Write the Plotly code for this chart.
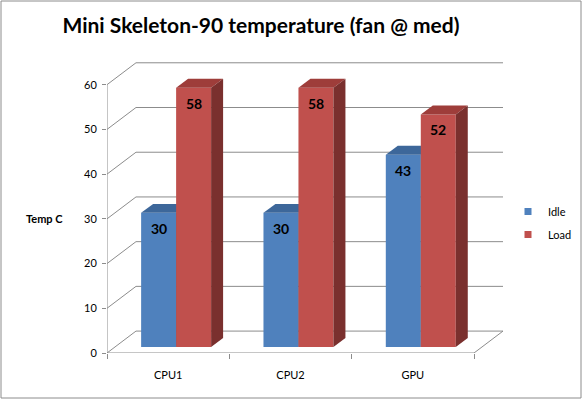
import plotly.graph_objects as go

# Dados do gráfico
categorias = ["CPU1", "CPU2", "GPU"]
idle = [30, 30, 43]
load = [58, 58, 52]
y_ticks = [0, 10, 20, 30, 40, 50, 60]

# Geometria "3D" (em unidades dos eixos)
WALL_DX, WALL_DY = 0.237, 4.9     # profundidade da parede de fundo
PLANE_DX, PLANE_DY = 0.065, 1.34  # plano onde ficam as barras
BAR_DX, BAR_DY = 0.098, 2.0       # profundidade de cada barra
BAR_W = 0.286

GRID = "#8c8c8c"
FONT = "Lato"

# margens em pixels -> área do gráfico
W, H = 583, 401
ML, MR, MT, MB = 107, 80, 61, 48
PW, PH = W - ML - MR, H - MT - MB

fig = go.Figure()

# grade da parede de fundo (linha diagonal + horizontal)
for v in y_ticks:
  fig.add_trace(go.Scatter(
    x=[-0.5, -0.5 + WALL_DX, 2.5 + WALL_DX],
    y=[v, v + WALL_DY, v + WALL_DY],
    mode="lines", line=dict(color=GRID, width=1),
    showlegend=False, hoverinfo="skip"))

# chão: borda frontal e lateral direita
fig.add_trace(go.Scatter(
  x=[-0.5, 2.5, 2.5 + WALL_DX], y=[0, 0, WALL_DY],
  mode="lines", line=dict(color=GRID, width=1),
  showlegend=False, hoverinfo="skip"))
# eixo y frontal
fig.add_trace(go.Scatter(
  x=[-0.5, -0.5], y=[0, y_ticks[-1]],
  mode="lines", line=dict(color=GRID, width=1),
  showlegend=False, hoverinfo="skip"))

series = [
  ("Idle", idle, -BAR_W / 2, "#4F81BD", "#3D679A", "#2F5480"),
  ("Load", load, BAR_W / 2, "#C0504D", "#9E3D3A", "#7A302E"),
]

annotations = []
for nome, valores, off, c_front, c_top, c_side in series:
  for i, v in enumerate(valores):
    cx = i + PLANE_DX + off
    xl, xr = cx - BAR_W / 2, cx + BAR_W / 2
    base, top = PLANE_DY, PLANE_DY + v
    # face frontal
    fig.add_trace(go.Scatter(
      x=[xl, xr, xr, xl, xl], y=[base, base, top, top, base],
      mode="lines", fill="toself", fillcolor=c_front,
      line=dict(width=0, color=c_front), showlegend=False, hoverinfo="skip"))
    # topo
    fig.add_trace(go.Scatter(
      x=[xl, xr, xr + BAR_DX, xl + BAR_DX, xl],
      y=[top, top, top + BAR_DY, top + BAR_DY, top],
      mode="lines", fill="toself", fillcolor=c_top,
      line=dict(width=0, color=c_top), showlegend=False, hoverinfo="skip"))
    # lateral
    fig.add_trace(go.Scatter(
      x=[xr, xr + BAR_DX, xr + BAR_DX, xr, xr],
      y=[base, base + BAR_DY, top + BAR_DY, top, base],
      mode="lines", fill="toself", fillcolor=c_side,
      line=dict(width=0, color=c_side), showlegend=False, hoverinfo="skip"))
    annotations.append(dict(
      x=cx, y=top, text=f"<b>{v}</b>", showarrow=False,
      yanchor="top", yshift=-5, font=dict(family=FONT, size=14, color="black")))

# legenda
for nome, valores, off, c_front, c_top, c_side in series:
  fig.add_trace(go.Scatter(
    x=[None], y=[None], mode="markers", name=nome, legendgroup=nome,
    marker=dict(symbol="square", size=7, color=c_front)))

# título do eixo y (horizontal, como no Excel)
annotations.append(dict(
  x=(44 - ML) / PW, y=(H - MB - 219) / PH, xref="paper", yref="paper",
  xanchor="center", yanchor="middle", text="<b>Temp C</b>",
  showarrow=False, font=dict(family=FONT, size=11, color="black")))

fig.update_layout(
  width=W, height=H, autosize=False,
  margin=dict(l=ML, r=MR, t=MT, b=MB, pad=0, autoexpand=False),
  paper_bgcolor="white", plot_bgcolor="white",
  title=dict(text="<b>Mini Skeleton-90 temperature (fan @ med)</b>",
             x=261 / W, xanchor="center", y=1 - 26 / H, yanchor="middle",
             font=dict(family=FONT, size=21, color="black")),
  font=dict(family=FONT, size=11, color="black"),
  showlegend=True,
  legend=dict(xref="container", yref="container", x=508 / W, y=1 - 197 / H,
              xanchor="left", yanchor="top",
              tracegroupgap=4, font=dict(size=11), bgcolor="rgba(0,0,0,0)"),
  annotations=annotations,
  shapes=[dict(type="rect", xref="paper", yref="paper",
               x0=(1 - ML) / PW, x1=(581 - ML) / PW,
               y0=(H - MB - 398) / PH, y1=(H - MB - 1) / PH,
               line=dict(color="#8c8c8c", width=1))],
)

fig.update_xaxes(
  range=[-0.5, 2.5 + WALL_DX], showgrid=False, zeroline=False, showline=False,
  tickmode="array", tickvals=[0, 1, 2], ticktext=categorias, ticks="",
  ticklabelstandoff=14, fixedrange=True,
  minor=dict(tickmode="array", tickvals=[-0.5, 0.5, 1.5, 2.5], ticks="outside",
             ticklen=5, tickcolor=GRID, showgrid=False))
fig.update_yaxes(
  range=[0, 65.3], showgrid=False, zeroline=False, showline=False,
  tickmode="array", tickvals=y_ticks, ticks="outside", ticklen=4, tickcolor=GRID,
  ticklabelstandoff=3, fixedrange=True)

# sem margem nem barras de rolagem na página
fig.write_html("out.html", config={"displayModeBar": False},
               post_script="document.documentElement.style.overflow='hidden';"
                           "document.body.style.margin='0';"
                           "document.body.style.overflow='hidden';")
